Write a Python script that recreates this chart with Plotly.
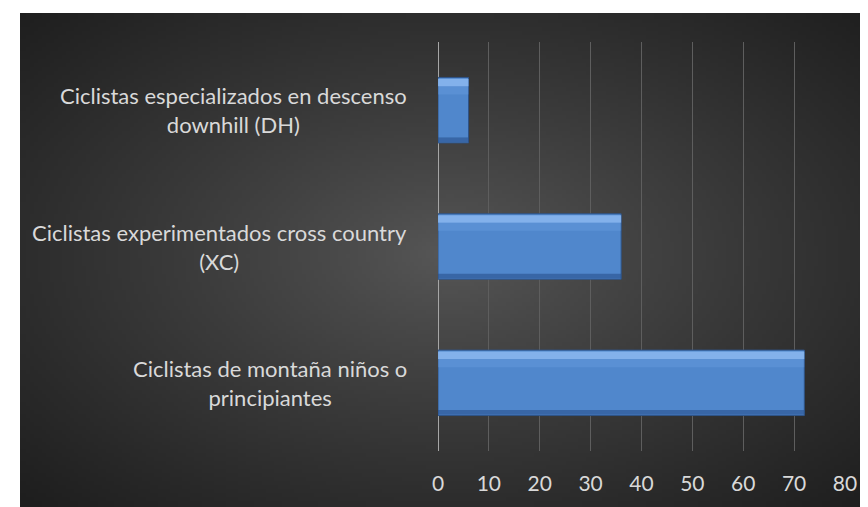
import base64, struct, zlib
import numpy as np
import plotly.graph_objects as go

# ---- data ----
categories = [
    "Ciclistas de montaña niños o<br>principiantes",
    "Ciclistas experimentados cross country<br>(XC)",
    "Ciclistas especializados en descenso<br>downhill (DH)",
]
values = [72, 36, 6]
tick_vals = [0, 10, 20, 30, 40, 50, 60, 70, 80]

# page body has an 8px margin, so the figure is 8px smaller than the window
W, H = 860, 499
L, R, T, B = 430, 23, 34, 56  # plot area margins


def make_png(w, h, cx, cy, c_in, c_out):
    yy, xx = np.mgrid[0:h, 0:w].astype(float)
    d = np.sqrt(((xx - cx) / w) ** 2 + ((yy - cy) / h) ** 2)
    d = d / d.max()
    t = np.clip(d, 0, 1) ** 0.85
    img = np.empty((h, w, 3), dtype=np.uint8)
    for k in range(3):
        img[..., k] = (c_in[k] * (1 - t) + c_out[k] * t).astype(np.uint8)
    raw = b"".join(b"\x00" + img[r].tobytes() for r in range(h))

    def chunk(tag, data):
        c = struct.pack(">I", len(data)) + tag + data
        return c + struct.pack(">I", zlib.crc32(tag + data) & 0xFFFFFFFF)

    png = b"\x89PNG\r\n\x1a\n"
    png += chunk(b"IHDR", struct.pack(">IIBBBBB", w, h, 8, 2, 0, 0, 0))
    png += chunk(b"IDAT", zlib.compress(raw, 9))
    png += chunk(b"IEND", b"")
    return "data:image/png;base64," + base64.b64encode(png).decode()


# dark area spans figure x 12..860, y 5..499
DX0, DY0 = 12, 5
bw, bh = 212, 124
bg_src = make_png(bw, bh, (440 - DX0) / (W - DX0) * bw, (245 - DY0) / (H - DY0) * bh,
                  (88, 88, 88), (30, 30, 30))

pw = W - L - R
ph = H - T - B

fig = go.Figure()
fig.add_trace(go.Bar(
    x=values, y=categories, orientation="h", width=0.48,
    marker=dict(color="#5087cc", line=dict(color="#2f5488", width=1)),
    hoverinfo="x+y",
))
# bevel highlight on top edge
fig.add_trace(go.Bar(
    x=values, y=categories, orientation="h", width=0.055, offset=0.175,
    marker=dict(color="rgba(140,185,240,0.85)", line=dict(width=0)),
    hoverinfo="skip",
))
fig.add_trace(go.Bar(
    x=values, y=categories, orientation="h", width=0.06, offset=0.115,
    marker=dict(color="rgba(110,160,225,0.35)", line=dict(width=0)),
    hoverinfo="skip",
))
# darker bottom edge
fig.add_trace(go.Bar(
    x=values, y=categories, orientation="h", width=0.035, offset=-0.235,
    marker=dict(color="rgba(40,80,140,0.6)", line=dict(width=0)),
    hoverinfo="skip",
))

for cat in categories:
    fig.add_annotation(
        x=(401 - L) / pw, xref="paper", y=cat, yref="y",
        text=cat, showarrow=False, xanchor="right", yanchor="middle",
        align="center", font=dict(family="Lato", size=22, color="#d9d9d9"),
    )

fig.add_layout_image(dict(
    source=bg_src, xref="paper", yref="paper",
    x=(DX0 - L) / pw, y=(H - B - DY0) / ph,
    sizex=(W - DX0) / pw, sizey=(H - DY0) / ph,
    sizing="stretch", layer="below", xanchor="left", yanchor="top",
))

fig.update_layout(
    width=W, height=H,
    margin=dict(l=L, r=R, t=T, b=B, pad=0),
    paper_bgcolor="white", plot_bgcolor="rgba(0,0,0,0)",
    barmode="overlay", showlegend=False,
    font=dict(family="Lato", color="#d9d9d9"),
    xaxis=dict(range=[0, 80], tickvals=tick_vals, showgrid=True,
               gridcolor="#5e5e5e", gridwidth=1, zeroline=False,
               showline=False, ticks="", ticklabelstandoff=18,
               tickfont=dict(family="Lato", size=21, color="#d9d9d9")),
    yaxis=dict(showticklabels=False, showgrid=False, zeroline=False,
               showline=False, ticks="", categoryorder="array",
               categoryarray=categories),
    shapes=[dict(type="line", xref="x", yref="paper", x0=0, x1=0, y0=0, y1=1,
                 line=dict(color="#a6a6a6", width=2), layer="below")],
)

fig.write_html("out.html")
